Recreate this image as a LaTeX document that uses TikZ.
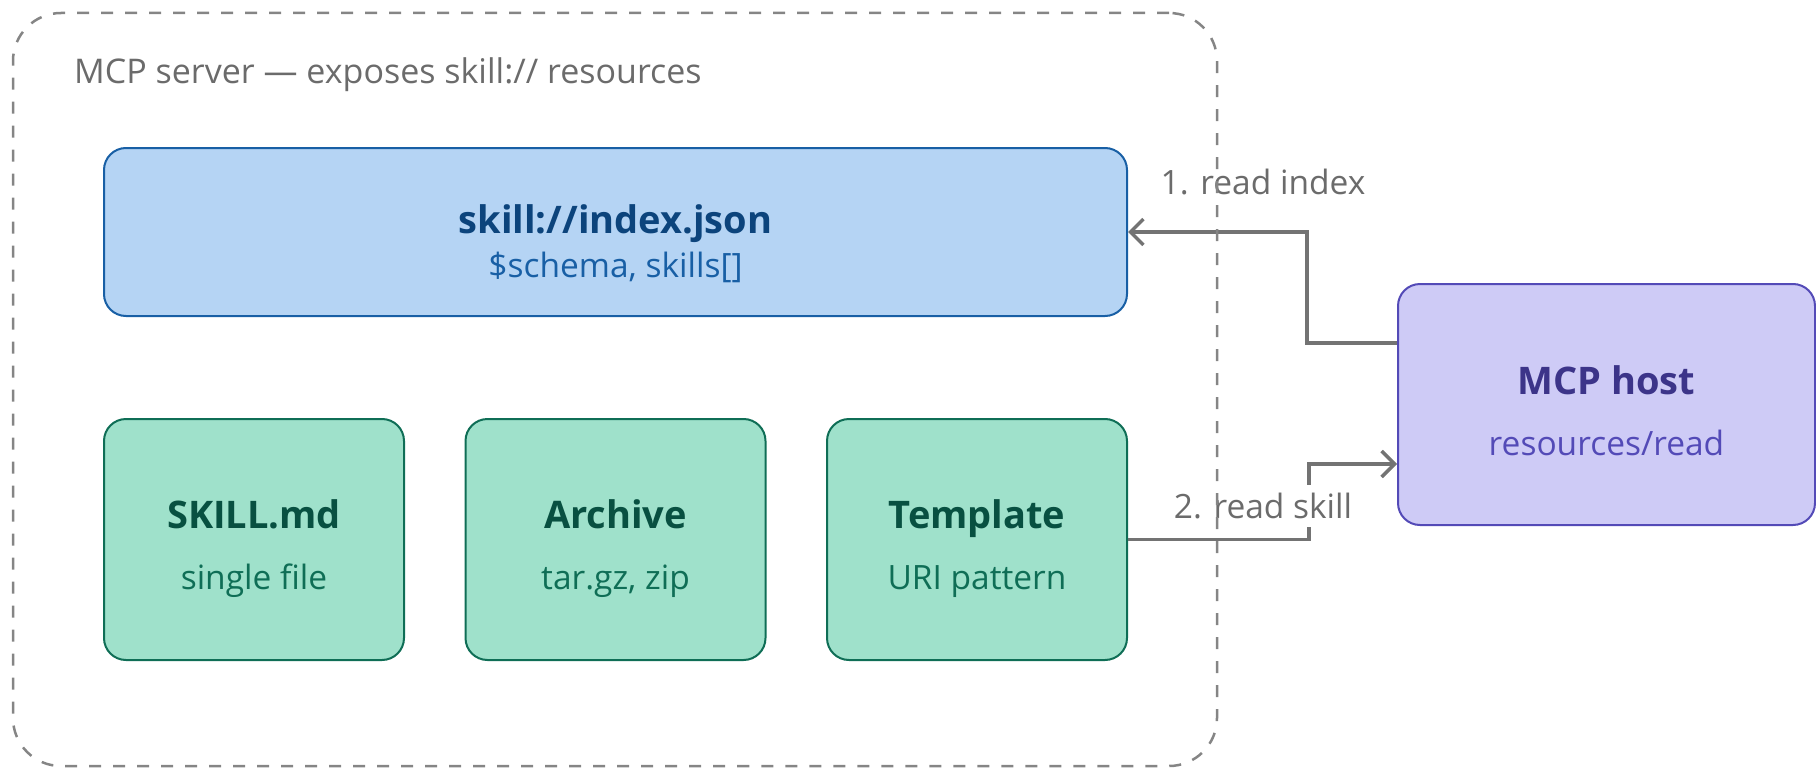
\documentclass[tikz,border=0pt]{standalone}
\usepackage{fontspec}
\setmainfont{Open Sans}
\usetikzlibrary{arrows.meta,calc}

\definecolor{blueFill}{HTML}{B5D4F4}
\definecolor{blueLine}{HTML}{185FA5}
\definecolor{blueText}{HTML}{0C447C}
\definecolor{tealFill}{HTML}{9FE1CB}
\definecolor{tealLine}{HTML}{0F6E56}
\definecolor{tealText}{HTML}{085041}
\definecolor{purpFill}{HTML}{CECBF6}
\definecolor{purpLine}{HTML}{534AB7}
\definecolor{purpText}{HTML}{3C3489}
\definecolor{edgeGray}{HTML}{737373}
\definecolor{frameGray}{HTML}{858585}
\definecolor{labelGray}{HTML}{6B6B6B}

\tikzset{
  box/.style={rectangle, rounded corners=22pt, line width=2pt, inner sep=0pt},
  indexbox/.style={box, fill=blueFill, draw=blueLine},
  kindbox/.style={box, fill=tealFill, draw=tealLine, minimum width=300pt, minimum height=241pt},
  hostbox/.style={box, fill=purpFill, draw=purpLine},
  headtext/.style={font=\fontsize{38}{44}\selectfont\bfseries, anchor=base, inner sep=0pt},
  subtext/.style={font=\fontsize{33.5}{40}\selectfont, anchor=base, inner sep=0pt},
  flow/.style={draw=edgeGray, line width=3.5pt, -{Straight Barb[length=13pt, width=26pt, line width=3.5pt]}},
  flowlabel/.style={font=\fontsize{33.5}{40}\selectfont, text=labelGray, fill=white, inner xsep=4pt, inner ysep=8pt},
  frame/.style={draw=frameGray, line width=2.5pt, dash pattern=on 12pt off 12pt, rounded corners=48pt},
}

\begin{document}
\begin{tikzpicture}[x=1pt, y=-1pt]
\useasboundingbox (0,0) rectangle (1816,768);

% index resource
\node[indexbox, minimum width=1023pt, minimum height=168pt] (idx) at (615.5,232) {};
\node[headtext, text=blueText] (idxT) at ($(idx.center)+(0,1)$) {skill://index.json};
\node[subtext, text=blueLine] (idxS) at ($(idx.center)+(0,45)$) {\$schema, skills[]};

% three skill packaging kinds
\node[kindbox] (md) at (254,539.5) {};
\node[kindbox] (arc) at (615.5,539.5) {};
\node[kindbox] (tpl) at (977,539.5) {};
\foreach \k/\t/\s in {md/SKILL.md/single file, arc/Archive/{tar.gz, zip}, tpl/Template/URI pattern}{
  \node[headtext, text=tealText] (\k T) at ($(\k.center)+(0,-11)$) {\t};
  \node[subtext, text=tealLine] (\k S) at ($(\k.center)+(0,50)$) {\s};
}

% host
\node[hostbox, minimum width=417pt, minimum height=241pt] (host) at (1606.5,404.5) {};
\node[headtext, text=purpText] (hostT) at ($(host.center)+(0,-10)$) {MCP host};
\node[subtext, text=purpLine] (hostS) at ($(host.center)+(0,51)$) {resources/read};

% requests
\coordinate (h1) at ($(host.north west)+(0,60)$);
\coordinate (h2) at ($(host.south west)+(0,-62)$);
\draw[flow] (h1) -- ++(-90,0) |- (idx.east);
\draw[flow] (tpl.east) -- ++(181,0) |- (h2);
\node[flowlabel] (l1) at (1263,182) {1. read index};
\node[flowlabel] (l2) at (1263,506) {2. read skill};

% server boundary
\node[frame, minimum width=1204pt, minimum height=753pt] (server) at (615,389.5) {};
\node[subtext, font=\fontsize{34}{40}\selectfont, text=labelGray, anchor=base west] (srvT) at (74,84) {MCP server — exposes skill:// resources};
\end{tikzpicture}
\end{document}
